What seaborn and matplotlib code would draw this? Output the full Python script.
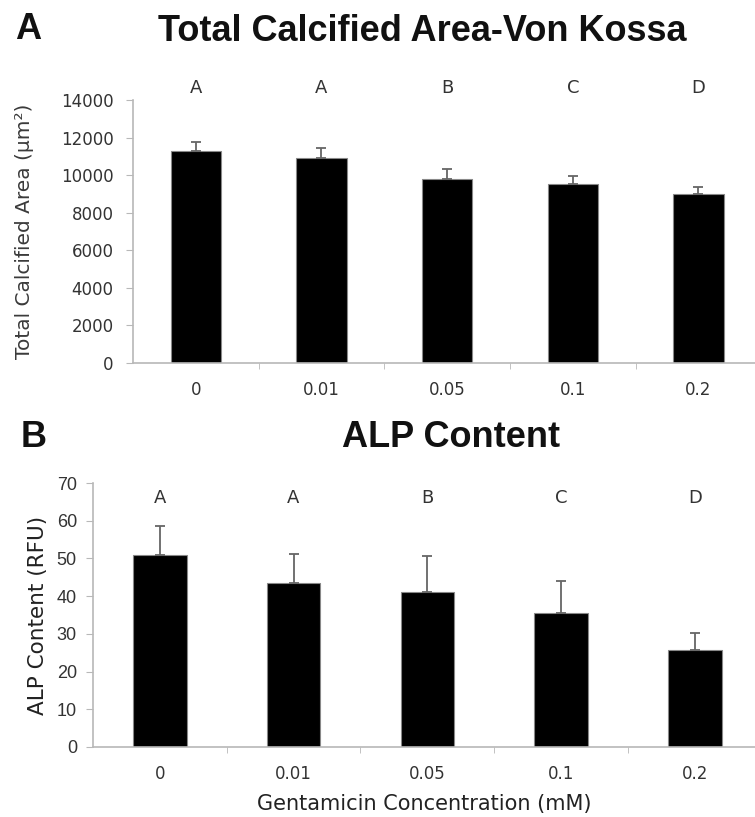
import numpy as np
import pandas as pd
import matplotlib
matplotlib.use("Agg")
import matplotlib.pyplot as plt
import seaborn as sns

# data
concentrations = ["0", "0.01", "0.05", "0.1", "0.2"]
calcified_area = [11300, 10900, 9770, 9500, 9000]
calcified_err = [450, 550, 530, 460, 350]
calcified_letters = ["A", "A", "B", "C", "D"]

alp_content = [50.9, 43.4, 41.0, 35.4, 25.7]
alp_err = [7.8, 7.9, 9.7, 8.7, 4.5]
alp_letters = ["A", "A", "B", "C", "D"]

sns.set_style("white")
plt.rcParams["font.family"] = ["DejaVu Sans"]

AXIS_GREY = "#b8b8b8"
TEXT_GREY = "#333333"
BOLD_FONT = ["Liberation Sans", "DejaVu Sans"]


def draw_panel(ax, values, errs, letters, letter_y, ylim, yticks,
               ytick_size, ytick_pad, ytick_font):
    df = pd.DataFrame({"conc": concentrations, "value": values})
    sns.barplot(data=df, x="conc", y="value", color="black", width=0.4,
                edgecolor="#888888", linewidth=0.8, errorbar=None,
                saturation=1, ax=ax)
    x = np.arange(len(values))
    ax.errorbar(x, values, yerr=[np.zeros(len(errs)), errs], fmt="none",
                ecolor="#666666", elinewidth=1.3, capsize=3.5, capthick=1.3)
    for xi, lab in zip(x, letters):
        ax.text(xi, letter_y, lab, ha="center", va="center", fontsize=13,
                color=TEXT_GREY, clip_on=False)
    ax.set_xlim(-0.5, 4.45)
    ax.set_ylim(*ylim)
    ax.set_yticks(yticks)
    ax.set_yticklabels([str(t) for t in yticks], family=ytick_font,
                       fontsize=ytick_size, color=TEXT_GREY)
    ax.set_xticks(x)
    ax.set_xticks(np.arange(0.5, 4, 1), minor=True)
    ax.tick_params(axis="x", which="major", length=0, pad=13,
                   labelsize=12, labelcolor=TEXT_GREY)
    ax.tick_params(axis="x", which="minor", length=4, color=AXIS_GREY,
                   direction="out", bottom=True)
    ax.tick_params(axis="y", length=5, color=AXIS_GREY, direction="out",
                   left=True, pad=ytick_pad)
    for side in ["top", "right"]:
        ax.spines[side].set_visible(False)
    for side in ["left", "bottom"]:
        ax.spines[side].set_color(AXIS_GREY)
        ax.spines[side].set_linewidth(1.2)
    ax.set_xlabel("")


fig = plt.figure(figsize=(7.55, 8.17), dpi=100)

ax_a = fig.add_axes([0.176, 0.5557, 0.824, 0.322])
draw_panel(ax_a, calcified_area, calcified_err, calcified_letters,
           14650, (0, 14000), np.arange(0, 14001, 2000),
           12, 9, ["DejaVu Sans"])
ax_a.set_ylabel("Total Calcified Area (μm²)", fontsize=14.5, color="#3a3a3a")
ax_a.yaxis.set_label_coords(-0.159, 0.5)

ax_b = fig.add_axes([0.123, 0.0857, 0.877, 0.3231])
draw_panel(ax_b, alp_content, alp_err, alp_letters,
           66, (0, 70), np.arange(0, 71, 10),
           13, 6.5, BOLD_FONT)
ax_b.set_ylabel("ALP Content (RFU)", fontsize=15.5, color="#222222")
ax_b.yaxis.set_label_coords(-0.068, 0.5)
ax_b.set_xlabel("Gentamicin Concentration (mM)", fontsize=15,
                color="#222222", labelpad=8)

fig.text(0.559, 0.962, "Total Calcified Area-Von Kossa", ha="center",
         va="center", fontsize=26, fontweight="bold", color="#111111",
         family=BOLD_FONT)
fig.text(0.037, 0.964, "A", ha="center", va="center", fontsize=26,
         fontweight="bold", color="#111111", family=BOLD_FONT)
fig.text(0.597, 0.465, "ALP Content", ha="center", va="center",
         fontsize=26, fontweight="bold", color="#111111", family=BOLD_FONT)
fig.text(0.044, 0.465, "B", ha="center", va="center", fontsize=26,
         fontweight="bold", color="#111111", family=BOLD_FONT)

fig.savefig("out.png", dpi=100)
